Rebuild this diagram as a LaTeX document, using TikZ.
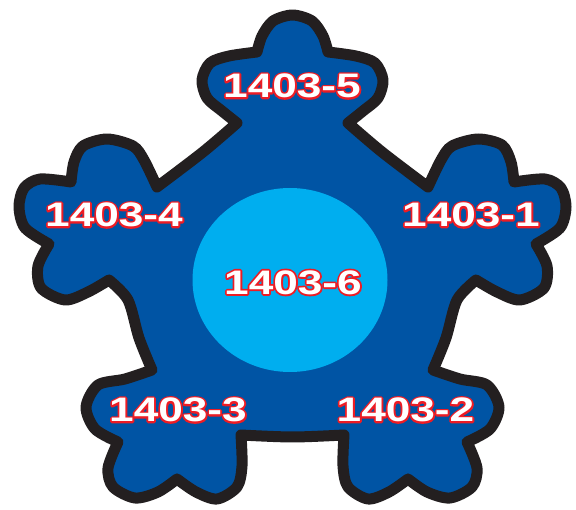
\documentclass[tikz,border=0pt]{standalone}
\usepackage{fontspec}
\newfontfamily\tagfont[FakeStretch=1.3]{Liberation Sans}
\definecolor{lobeblue}{RGB}{0,84,164}
\definecolor{hubblue}{RGB}{0,174,239}
\definecolor{rimblack}{RGB}{35,31,32}
\definecolor{tagred}{RGB}{237,28,36}
% white letters on a red stroked copy of themselves
\newcommand\redrim[1]{\rlap{\special{pdf:literal direct 0.929 0.110 0.141 RG 3.6 w 1 j 1 Tr}#1\special{pdf:literal direct 0 Tr}}#1}

\begin{document}
\begin{tikzpicture}[x=1pt, y=-1pt,
    rim/.style={draw=rimblack, line width=11pt, line join=round, fill=lobeblue},
    hub/.style={fill=hubblue},
    tag/.style={text=white, inner sep=0pt,
                font=\tagfont\bfseries\fontsize{34}{40}\selectfont},
]
    \useasboundingbox (0,0) rectangle (576,510);

    % body with its five lobes, clockwise from the top one
    \draw[rim] (237,123)
        -- plot[smooth] coordinates {(237,123) (222,111) (207,98) (202,80) (210,63) (229,56) (257,52)}
        -- plot[smooth] coordinates {(257,52) (262,36) (273,21) (292.5,15) (312,21) (323,36) (328,52)}
        -- plot[smooth] coordinates {(328,52) (356,56) (375,63) (383,80) (378,98) (363,111) (348,123)}
        -- plot[smooth] coordinates {(348,123) (382,152) (428,187)}
        -- plot[smooth] coordinates {(428,187) (441,160) (452,146) (478,139) (502,145) (511,162) (514,182)}
        -- plot[smooth] coordinates {(514,182) (545,179) (561,188) (566,207) (560,228) (536,244)}
        -- plot[smooth] coordinates {(536,244) (547,266) (544,288) (520,300) (497,292) (476,280)}
        -- plot[smooth] coordinates {(476,280) (457,300) (446,338) (433,370)}
        -- plot[smooth] coordinates {(433,370) (460,379) (487,385) (499,407) (490,429) (467,442)}
        -- plot[smooth] coordinates {(467,442) (477,468) (472,487) (450,498) (427,492) (408,479)}
        -- plot[smooth] coordinates {(408,479) (389,492) (368,499) (348,487) (343,466) (344,435)}
        -- plot[smooth] coordinates {(344,435) (292.5,437) (241,435)}
        -- plot[smooth] coordinates {(241,435) (242,466) (237,487) (217,499) (196,492) (177,479)}
        -- plot[smooth] coordinates {(177,479) (158,492) (135,498) (113,487) (108,468) (118,442)}
        -- plot[smooth] coordinates {(118,442) (95,429) (86,407) (98,385) (125,379) (152,370)}
        -- plot[smooth] coordinates {(152,370) (139,338) (128,300) (109,280)}
        -- plot[smooth] coordinates {(109,280) (88,292) (65,300) (41,288) (38,266) (49,244)}
        -- plot[smooth] coordinates {(49,244) (25,228) (19,207) (24,188) (40,179) (71,182)}
        -- plot[smooth] coordinates {(71,182) (74,162) (83,146) (107,139) (133,146) (144,160) (157,187)}
        -- plot[smooth] coordinates {(157,187) (203,152) (237,123)}
        -- cycle;

    \fill[hub] (290,280) ellipse[x radius=97.5, y radius=92];

    \node[tag] (tag5) at (292,86) {\redrim{1403-5}};
    \node[tag] (tag4) at (114,215) {\redrim{1403-4}};
    \node[tag] (tag1) at (471,215) {\redrim{1403-1}};
    \node[tag] (tag3) at (178,410) {\redrim{1403-3}};
    \node[tag] (tag2) at (405.5,410) {\redrim{1403-2}};
    \node[tag] (tag6) at (293,282.5) {\redrim{1403-6}};
\end{tikzpicture}
\end{document}
